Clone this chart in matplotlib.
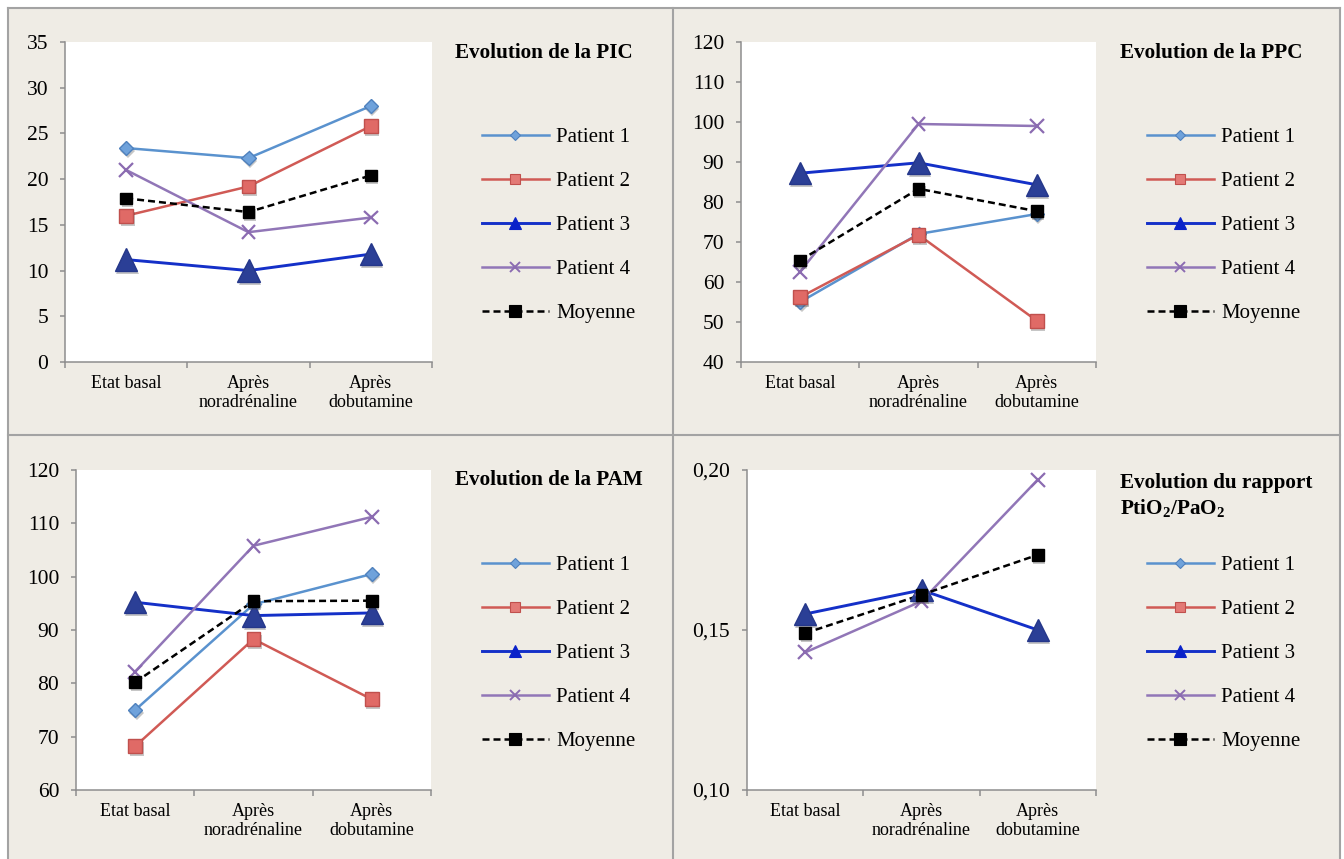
import matplotlib.pyplot as plt
from matplotlib.lines import Line2D
from matplotlib.patches import Rectangle
import matplotlib.patheffects as pe
import numpy as np

plt.rcParams.update({
    'font.family': 'Liberation Serif',
    'mathtext.fontset': 'custom',
    'mathtext.rm': 'Liberation Serif',
    'mathtext.bf': 'Liberation Serif:bold',
})

# ---------------- data ----------------
categories = ["Etat basal", "Après\nnoradrénaline", "Après\ndobutamine"]
series_names = ["Patient 1", "Patient 2", "Patient 3", "Patient 4", "Moyenne"]

pic_p1 = [23.4, 22.3, 28.0]
pic_p2 = [16.0, 19.2, 25.8]
pic_p3 = [11.2, 10.0, 11.8]
pic_p4 = [21.0, 14.2, 15.8]
pic_moy = [17.9, 16.4, 20.4]

ppc_p1 = [55.0, 72.0, 77.0]
ppc_p2 = [56.2, 71.8, 50.3]
ppc_p3 = [87.2, 89.8, 84.3]
ppc_p4 = [62.6, 99.5, 99.0]
ppc_moy = [65.4, 83.3, 77.7]

pam_p1 = [75.0, 94.8, 100.5]
pam_p2 = [68.2, 88.3, 77.0]
pam_p3 = [95.2, 92.7, 93.2]
pam_p4 = [82.2, 105.8, 111.2]
pam_moy = [80.2, 95.4, 95.5]

rap_p1 = [np.nan, np.nan, np.nan]
rap_p2 = [np.nan, np.nan, np.nan]
rap_p3 = [0.155, 0.1625, 0.150]
rap_p4 = [0.143, 0.159, 0.197]
rap_moy = [0.149, 0.161, 0.1735]

pic_ticks = [0, 5, 10, 15, 20, 25, 30, 35]
ppc_ticks = [40, 50, 60, 70, 80, 90, 100, 110, 120]
pam_ticks = [60, 70, 80, 90, 100, 110, 120]
rap_ticks = [0.10, 0.15, 0.20]
rap_labels = ["0,10", "0,15", "0,20"]

# ---------------- styles ----------------
W, H = 1344, 859
def fx(px):
    return px / W
def fy(py):
    return 1 - py / H

# lms / lmfc = marker size and fill in the legend
styles = {
    "Patient 1": dict(color="#5A92CE", lw=1.8, marker="D", ms=7.4, mfc="#6FA2DB", mec="#4F81BD",
                      lms=5.4, lmfc="#6FA2DB", ls="-"),
    "Patient 2": dict(color="#D05A55", lw=1.8, marker="s", ms=10, mfc="#E06A66", mec="#C0504D",
                      lms=7.8, lmfc="#E37A76", ls="-"),
    "Patient 3": dict(color="#1430C8", lw=2.1, marker="^", ms=16, mfc="#2B3F96", mec="#25378A",
                      lms=8.5, lmfc="#0A22C9", ls="-"),
    "Patient 4": dict(color="#9176B7", lw=1.8, marker="x", ms=10, mfc="#9176B7", mec="#8B6BB1",
                      lms=7.2, lmfc="#9176B7", ls="-"),
    "Moyenne": dict(color="black", lw=1.8, marker="s", ms=8.4, mfc="black", mec="black",
                    lms=8.6, lmfc="black", ls=(0, (2.8, 1.6))),
}
spine_col = "#8E8E8E"

fig = plt.figure(figsize=(W / 100, H / 100), dpi=100, facecolor="white")
fig.add_artist(Rectangle((fx(8), 0), fx(1340) - fx(8), fy(8), transform=fig.transFigure,
                         facecolor="#EFECE5", edgecolor="none", zorder=0))
frame_kw = dict(transform=fig.transFigure, color="#A3A3A3", lw=1.5, zorder=1)
fig.add_artist(Line2D([fx(8), fx(8)], [fy(8), 0], **frame_kw))
fig.add_artist(Line2D([fx(1340), fx(1340)], [fy(8), 0], **frame_kw))
fig.add_artist(Line2D([fx(673), fx(673)], [fy(8), 0], **frame_kw))
fig.add_artist(Line2D([fx(8), fx(1340)], [fy(8), fy(8)], **frame_kw))
fig.add_artist(Line2D([fx(8), fx(1340)], [fy(435), fy(435)], **frame_kw))

panels = [
    dict(data=[pic_p1, pic_p2, pic_p3, pic_p4, pic_moy], ticks=pic_ticks, labels=None,
         box=(65, 432, 42, 362), title="Evolution de la PIC", tpos=(455, 53), lpos=(482, 225.5)),
    dict(data=[ppc_p1, ppc_p2, ppc_p3, ppc_p4, ppc_moy], ticks=ppc_ticks, labels=None,
         box=(741, 1096, 42, 362), title="Evolution de la PPC", tpos=(1120, 53), lpos=(1147, 225.5)),
    dict(data=[pam_p1, pam_p2, pam_p3, pam_p4, pam_moy], ticks=pam_ticks, labels=None,
         box=(76, 431, 470, 790), title="Evolution de la PAM", tpos=(455, 480), lpos=(482, 653.5)),
    dict(data=[rap_p1, rap_p2, rap_p3, rap_p4, rap_moy], ticks=rap_ticks, labels=rap_labels,
         box=(747, 1096, 470, 790),
         title="Evolution du rapport\nPtiO$_\\mathbf{2}$/PaO$_\\mathbf{2}$", tpos=(1120, 473), lpos=(1147, 653.5)),
]

shadow = [pe.SimplePatchShadow(offset=(1.0, -2.2), shadow_rgbFace="#444444", alpha=0.3), pe.Normal()]
x = np.arange(len(categories))

for p in panels:
    l, r, t, b = p["box"]
    ax = fig.add_axes([fx(l), fy(b), fx(r) - fx(l), fy(t) - fy(b)])
    ax.set_facecolor("white")
    for name, vals in zip(series_names, p["data"]):
        s = styles[name]
        ax.plot(x, vals, color=s["color"], lw=s["lw"], ls=s["ls"], zorder=2, clip_on=False)
        mew = 1.6 if s["marker"] == "x" else 1.0
        ax.plot(x, vals, ls="none", marker=s["marker"], ms=s["ms"], mfc=s["mfc"], mec=s["mec"],
                mew=mew, zorder=3, clip_on=False, path_effects=shadow)

    ax.set_xlim(-0.5, 2.5)
    ax.set_ylim(p["ticks"][0], p["ticks"][-1])
    ax.set_yticks(p["ticks"])
    if p["labels"]:
        ax.set_yticklabels(p["labels"])
    ax.set_xticks([-0.5, 0.5, 1.5, 2.5])
    ax.set_xticklabels([])
    ax.set_xticks(x, minor=True)
    ax.set_xticklabels(categories, minor=True)
    ax.tick_params(axis="x", which="minor", length=0, pad=9, labelsize=13)
    ax.tick_params(axis="x", which="major", length=4.3, width=1.1, color=spine_col)
    ax.tick_params(axis="y", length=3.6, width=1.1, color=spine_col, pad=8.5, labelsize=15.5)
    for side in ("top", "right"):
        ax.spines[side].set_visible(False)
    for side in ("left", "bottom"):
        ax.spines[side].set_color(spine_col)
        ax.spines[side].set_linewidth(1.1)

    fig.text(fx(p["tpos"][0]), fy(p["tpos"][1]), p["title"], ha="left",
             va="top" if "\n" in p["title"] else "center",
             fontsize=15.2, fontweight="bold", linespacing=1.25)

    handles = []
    for name in series_names:
        s = styles[name]
        handles.append(Line2D([], [], color=s["color"], lw=s["lw"], ls=s["ls"], marker=s["marker"],
                              ms=s["lms"], mfc=s["lmfc"], mec=s["mec"] if s["marker"] != "^" else s["lmfc"],
                              mew=1.4 if s["marker"] == "x" else 0.8))
    ax.legend(handles, series_names, loc="center left",
              bbox_to_anchor=(fx(p["lpos"][0]), fy(p["lpos"][1])), bbox_transform=fig.transFigure,
              frameon=False, fontsize=15, handlelength=3.2, handletextpad=0.35,
              labelspacing=1.17, borderpad=0, borderaxespad=0)

fig.savefig("out.png", dpi=100, facecolor=fig.get_facecolor())
